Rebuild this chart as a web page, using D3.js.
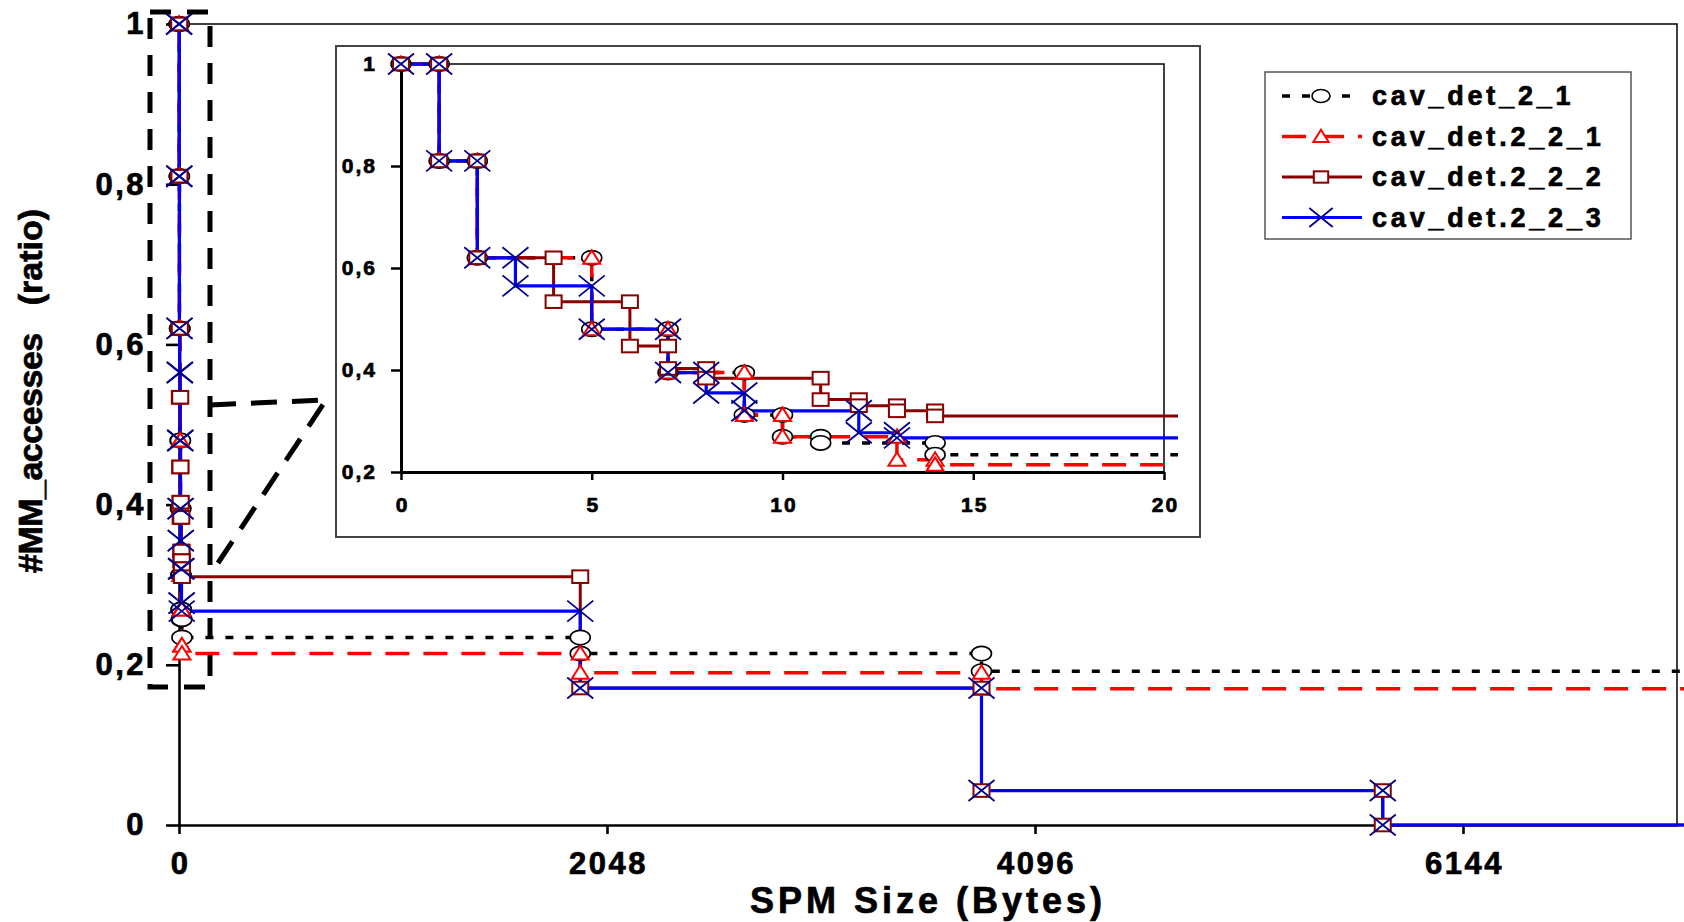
<!DOCTYPE html>
<html><head><meta charset="utf-8">
<script src="https://cdn.jsdelivr.net/npm/d3@7"></script>
<style>
body{margin:0;background:#fff}
svg text{font-family:"Liberation Sans",Arial,sans-serif;font-weight:bold;fill:#000;stroke:#000;stroke-width:0.7px}
</style>
</head><body>
<svg id="chart" width="1684" height="922"></svg>
<script>
// ---------------- data ----------------
const seriesNames = ["cav_det_2_1", "cav_det.2_2_1", "cav_det.2_2_2", "cav_det.2_2_3"];

// SPM size (bytes) and #MM_accesses ratio, corner points of each step curve
const size_2_1  = [0,1,1,2,2,5,5,7,7,9,9,10,10,11,11,14,14,1920,1920,3840,3840,8192];
const ratio_2_1 = [1,1,0.81,0.81,0.62,0.62,0.48,0.48,0.395,0.395,0.312,0.312,0.269,0.269,0.257,0.257,0.234,0.234,0.214,0.214,0.192,0.192];

const size_2_2_1  = [0,1,1,2,2,5,5,7,7,9,9,10,10,13,13,14,14,1920,1920,3840,3840,8192];
const ratio_2_2_1 = [1,1,0.81,0.81,0.62,0.62,0.48,0.48,0.395,0.395,0.312,0.312,0.269,0.269,0.224,0.224,0.214,0.214,0.19,0.19,0.17,0.17];

const size_2_2_2  = [0,1,1,2,2,4,4,6,6,7,7,8,8,11,11,12,12,13,13,14,14,1920,1920,3840,3840,5760,5760,8192];
const ratio_2_2_2 = [1,1,0.81,0.81,0.62,0.62,0.534,0.534,0.447,0.447,0.403,0.403,0.384,0.384,0.342,0.342,0.33,0.33,0.32,0.32,0.31,0.31,0.171,0.171,0.043,0.043,0,0];

const size_2_2_3  = [0,1,1,2,2,3,3,5,5,7,7,8,8,9,9,12,12,13,13,1920,1920,3840,3840,5760,5760,8192];
const ratio_2_2_3 = [1,1,0.81,0.81,0.62,0.62,0.565,0.565,0.48,0.48,0.395,0.395,0.355,0.355,0.32,0.32,0.277,0.277,0.267,0.267,0.171,0.171,0.043,0.043,0,0];

const mainXTicks  = [0, 2048, 4096, 6144];
const mainYTicks  = [0, 0.2, 0.4, 0.6, 0.8, 1];
const insetXTicks = [0, 5, 10, 15, 20];
const insetYTicks = [0.2, 0.4, 0.6, 0.8, 1];
const xTitle = "SPM Size (Bytes)";
const yTitleA = "#MM_accesses";
const yTitleB = "(ratio)";

// ---------------- styles ----------------
const styles = [
  {color:"#000000", width:3.5, dash:"8,12",  marker:"circle"},
  {color:"#ff0000", width:3.5, dash:"24,14", marker:"triangle"},
  {color:"#880000", width:3,   dash:null,    marker:"square"},
  {color:"#0000ff", width:3.2, dash:null,    marker:"x"}
];
const series = [
  {name:seriesNames[0], xs:size_2_1,   ys:ratio_2_1},
  {name:seriesNames[1], xs:size_2_2_1, ys:ratio_2_2_1},
  {name:seriesNames[2], xs:size_2_2_2, ys:ratio_2_2_2},
  {name:seriesNames[3], xs:size_2_2_3, ys:ratio_2_2_3}
].map((s,i)=>({...s, style:styles[i], pts:s.xs.map((x,j)=>[x,s.ys[j]])}));

const fmt = v => String(v).replace(".", ",");
const svg = d3.select("#chart");
const defs = svg.append("defs");

// ---------------- scales ----------------
const xMain = d3.scaleLinear().domain([0, 7168]).range([179, 1677]);
const yMain = d3.scaleLinear().domain([0, 1]).range([825, 24]);
const xIn = d3.scaleLinear().domain([0, 20]).range([401, 1164]);
const yIn = d3.scaleLinear().domain([0.2, 1]).range([472, 64]);

function drawMarker(g, type, cx, cy, s) {
  if (type === "circle") {
    g.append("ellipse").attr("cx",cx).attr("cy",cy).attr("rx",10*s).attr("ry",7.2*s)
      .attr("fill","#fff").attr("stroke","#000").attr("stroke-width",1.6);
  } else if (type === "triangle") {
    g.append("path").attr("d",`M${cx},${cy-7.5*s}L${cx+8.5*s},${cy+6*s}L${cx-8.5*s},${cy+6*s}Z`)
      .attr("fill","#fff").attr("stroke","#ff0000").attr("stroke-width",2);
  } else if (type === "square") {
    g.append("rect").attr("x",cx-8*s).attr("y",cy-6.3*s).attr("width",16*s).attr("height",12.6*s)
      .attr("fill","#fff").attr("stroke","#880000").attr("stroke-width",2);
  } else {
    g.append("path").attr("d",`M${cx-13*s},${cy-10.5*s}L${cx+13*s},${cy+10.5*s}M${cx-13*s},${cy+10.5*s}L${cx+13*s},${cy-10.5*s}`)
      .attr("fill","none").attr("stroke","#00008b").attr("stroke-width",1.8);
  }
}

function drawSeries(g, xs, ys, s) {
  const line = d3.line().x(d=>xs(d[0])).y(d=>ys(d[1]));
  series.forEach(se => {
    g.append("path").attr("d", line(se.pts)).attr("fill","none")
      .attr("stroke", se.style.color).attr("stroke-width", se.style.width)
      .attr("stroke-dasharray", se.style.dash)
      .attr("stroke-linejoin","miter");
  });
  series.forEach(se => {
    const mg = g.append("g");
    se.pts.forEach(p => drawMarker(mg, se.style.marker, xs(p[0]), ys(p[1]), s));
  });
}

function styleAxis(a, size, ls, domW, tickW) {
  a.select(".domain").attr("stroke","#000").attr("stroke-width",domW);
  a.selectAll(".tick line").attr("stroke","#000").attr("stroke-width",tickW);
  a.selectAll("text").attr("font-size",size).attr("font-family",null)
    .style("letter-spacing",ls+"px")
    .style("font-family","'Liberation Sans',Arial,sans-serif").style("font-weight","bold");
}

// ---------------- main chart ----------------
const main = svg.append("g");
main.append("path").attr("d",`M${xMain(0)},${yMain(1)}H${xMain(7168)}V${yMain(0)}`)
  .attr("fill","none").attr("stroke","#000").attr("stroke-width",1.5);

const yAxisMain = main.append("g").attr("transform",`translate(${xMain(0)},0)`)
  .call(d3.axisLeft(yMain).tickValues(mainYTicks).tickSize(13).tickSizeOuter(0).tickPadding(20).tickFormat(fmt));
const xAxisMain = main.append("g").attr("transform",`translate(0,${yMain(0)})`)
  .call(d3.axisBottom(xMain).tickValues(mainXTicks).tickSize(9).tickSizeOuter(0).tickPadding(18).tickFormat(d=>d));
styleAxis(yAxisMain, 31, 2.5, 2.6, 2.6);
styleAxis(xAxisMain, 31, 2.5, 2.6, 2.6);
xAxisMain.selectAll("text").attr("dx","1px");

defs.append("clipPath").attr("id","mainClip").append("rect")
  .attr("x",140).attr("y",0).attr("width",1544).attr("height",922);
const mainSeries = main.append("g").attr("clip-path","url(#mainClip)");
drawSeries(mainSeries, xMain, yMain, 1);

// titles
svg.append("text").attr("x",928).attr("y",913).attr("text-anchor","middle")
  .attr("font-size",36).style("letter-spacing","4px").text(xTitle);
const yt = svg.append("text").attr("transform","translate(42,391) rotate(-90)")
  .attr("text-anchor","middle").attr("font-size",34);
yt.append("tspan").style("letter-spacing","-0.5px").text(yTitleA);
yt.append("tspan").attr("dx",28).text(yTitleB);

// zoom rectangle + callout lines
svg.append("rect").attr("x",150).attr("y",12).attr("width",60).attr("height",675)
  .attr("fill","none").attr("stroke","#000").attr("stroke-width",5).attr("stroke-dasharray","21,16");
svg.append("path").attr("d","M210,405L325,400M218,563L326,400")
  .attr("fill","none").attr("stroke","#000").attr("stroke-width",5).attr("stroke-dasharray","26,15");

// ---------------- inset ----------------
const inset = svg.append("g");
inset.append("rect").attr("x",336).attr("y",46).attr("width",864).attr("height",491)
  .attr("fill","#fff").attr("stroke","#444").attr("stroke-width",2);
inset.append("path").attr("d",`M${xIn(0)},${yIn(1)}H${xIn(20)}V${yIn(0.2)}`)
  .attr("fill","none").attr("stroke","#000").attr("stroke-width",1.5);
const yAxisIn = inset.append("g").attr("transform",`translate(${xIn(0)},0)`)
  .call(d3.axisLeft(yIn).tickValues(insetYTicks).tickSize(10).tickSizeOuter(0).tickPadding(14).tickFormat(fmt));
const xAxisIn = inset.append("g").attr("transform",`translate(0,${yIn(0.2)})`)
  .call(d3.axisBottom(xIn).tickValues(insetXTicks).tickSize(8).tickSizeOuter(0).tickPadding(17).tickFormat(d=>d));
styleAxis(yAxisIn, 21, 2, 3, 2.5);
styleAxis(xAxisIn, 21, 2, 3, 2.5);
xAxisIn.selectAll("text").attr("dx","1px");

defs.append("clipPath").attr("id","inClip").append("rect")
  .attr("x",380).attr("y",48).attr("width",xIn(20.37)-380).attr("height",440);
const inSeries = inset.append("g").attr("clip-path","url(#inClip)");
drawSeries(inSeries, xIn, yIn, 1);

// ---------------- legend ----------------
const leg = svg.append("g");
leg.append("rect").attr("x",1265).attr("y",72).attr("width",366).attr("height",167)
  .attr("fill","#fff").attr("stroke","#555").attr("stroke-width",1.5);
series.forEach((se,i) => {
  const y = 96 + i*40.5;
  leg.append("line").attr("x1",1282).attr("x2",1362).attr("y1",y).attr("y2",y)
    .attr("stroke",se.style.color).attr("stroke-width",se.style.width)
    .attr("stroke-dasharray", se.style.dash);
  drawMarker(leg, se.style.marker, 1321, y, 0.9);
  leg.append("text").attr("x",1372).attr("y",y+9).attr("font-size",27)
    .style("letter-spacing","3.8px").text(se.name);
});
</script>
</body></html>
